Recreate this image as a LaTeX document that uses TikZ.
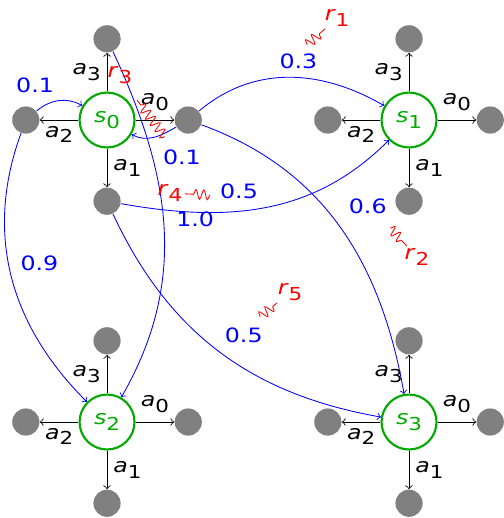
\documentclass[tikz,border=0pt]{standalone}
\usepackage{fontspec}
\newfontfamily\diagfont{DejaVu Sans}[FakeStretch=1.2]
\usetikzlibrary{positioning, decorations.pathmorphing}
\definecolor{mdpgreen}{RGB}{0,170,0}
\tikzset{
  mstate/.style={circle, draw=mdpgreen, line width=1pt, minimum size=9.1mm,
    inner sep=0pt, text=mdpgreen},
  act/.style={circle, fill=gray, minimum size=4.5mm, inner sep=0pt},
  actarrow/.style={->, black},
  alabel/.style={inner sep=2.8pt},
  trans/.style={->, blue},
  plabel/.style={text=blue, inner sep=1pt},
  reward/.style={red, decorate, decoration={snake, amplitude=0.8mm,
    segment length=1.3mm, post length=0.8mm}},
  rlabel/.style={text=red, inner sep=1pt}
}
\newcommand{\subsym}[2]{\textit{#1}\raisebox{-2.6pt}{\fontsize{8.4}{10}\selectfont #2}}

\begin{document}
\begin{tikzpicture}[font=\diagfont\fontsize{9.3}{11}\selectfont]
  \useasboundingbox (-1.772,-6.589) rectangle (6.556,1.987);

  \node[mstate] (s0) at (0,0) {\subsym{s}{0}};
  \node[mstate] (s1) at (5,0) {\subsym{s}{1}};
  \node[mstate] (s2) at (0,-5) {\subsym{s}{2}};
  \node[mstate] (s3) at (5,-5) {\subsym{s}{3}};

  % four actions round every state
  \foreach \s in {s0,s1,s2,s3}{
    \node[act, right=6.4mm of \s] (\s a0) {};
    \node[act, below=6.4mm of \s] (\s a1) {};
    \node[act, left=6.4mm of \s] (\s a2) {};
    \node[act, above=6.4mm of \s] (\s a3) {};
    \draw[actarrow] (\s) -- node[alabel, above=0.5mm] {\subsym{a}{0}} (\s a0);
    \draw[actarrow] (\s) -- node[alabel, right] {\subsym{a}{1}} (\s a1);
    \draw[actarrow] (\s) -- node[alabel, below] {\subsym{a}{2}} (\s a2);
    \draw[actarrow] (\s) -- node[alabel, left] {\subsym{a}{3}} (\s a3);
  }

  % transitions
  \draw[trans] (s0a2) to[out=40, in=150] node[plabel, pos=0.45, above left=1mm and 0mm] {0.1} (s0);
  \draw[trans] (s0a0) to[out=210, in=-30] node[plabel, pos=0.35, below right=2mm and 0mm] {0.1} (s0);
  \draw[trans] (s0a0) to[out=40, in=150] node[plabel, pos=0.55, above=1mm] {0.3} (s1);
  \draw[trans] (s0a0) to[out=-20, in=100] node[plabel, pos=0.42, right=3.7mm] {0.6} (s3);
  \draw[trans] (s0a1) to[out=-10, in=225] node[plabel, pos=0.4, above=1.6mm] {0.5} (s1);
  \draw[trans] (s0a1) to[out=-65, in=170] node[plabel, pos=0.59, above=3.8mm] {0.5} (s3);
  \draw[trans] (s0a3) to[out=-65, in=60] node[plabel, pos=0.48, right=1.7mm] {1.0} (s2);
  \draw[trans] (s0a2) to[out=-110, in=135] node[plabel, pos=0.45, right=1.6mm] {0.9} (s2);

  % rewards
  \node[rlabel] (r1) at (3.808,1.689) {\subsym{r}{1}};
  \node[rlabel] (r2) at (5.132,-2.268) {\subsym{r}{2}};
  \node[rlabel] (r3) at (0.215,0.745) {\subsym{r}{3}};
  \node[rlabel] (r4) at (1.043,-1.209) {\subsym{r}{4}};
  \node[rlabel] (r5) at (3.030,-2.848) {\subsym{r}{5}};
  \coordinate (r1s) at (3.311,1.242);
  \coordinate (r2s) at (4.685,-1.788);
  \coordinate (r3s) at (0.960,-0.281);
  \coordinate (r3e) at (0.497,0.331);
  \coordinate (r4s) at (1.705,-1.242);
  \coordinate (r5s) at (2.533,-3.262);
  \draw[reward] (r1s) -- (r1);
  \draw[reward] (r2s) -- (r2);
  \draw[reward] (r3s) -- (r3e);
  \draw[reward] (r4s) -- (r4);
  \draw[reward] (r5s) -- (r5);
\end{tikzpicture}
\end{document}
